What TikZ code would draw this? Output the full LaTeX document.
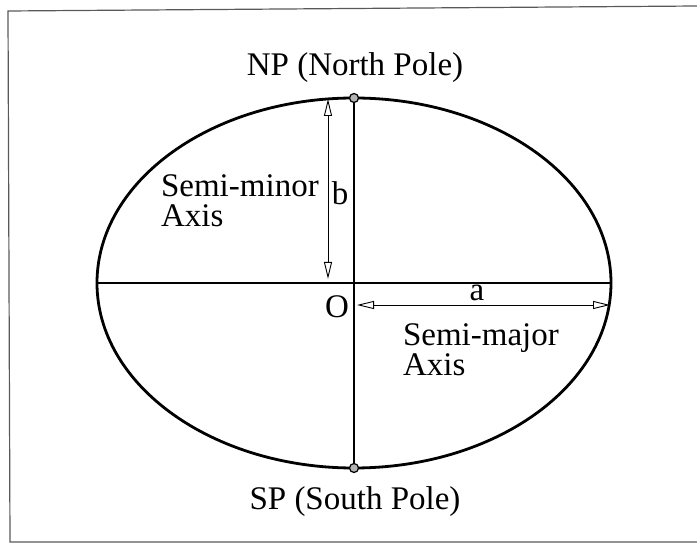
\documentclass[tikz,border=0pt]{standalone}
\usepackage{fontspec}
\setmainfont{Liberation Serif}
\usetikzlibrary{arrows.meta}
\tikzset{
  figframe/.style={line width=0.6pt,black!65},
  ellipseline/.style={line width=1.4pt},
  axisline/.style={line width=1.1pt},
  dimarrow/.style={line width=0.45pt,
    {Triangle[open,length=8.5pt,width=4pt]}-{Triangle[open,length=8.5pt,width=4pt]}},
  poledot/.style={circle,draw,line width=0.6pt,fill=black!30,inner sep=0pt,minimum size=4.5pt},
  every picture/.style={font=\fontsize{16.5}{15}\selectfont}
}
\begin{document}
\begin{tikzpicture}[x=0.5pt,y=-0.5pt]
  \useasboundingbox (0,0) rectangle (697,545);
  % frame, open on the right
  \draw[figframe] (697,6) -- (8,11) -- (10,542) -- (697,542);

  \coordinate (O) at (354,283);
  \coordinate (W) at (97,283);
  \coordinate (E) at (611,283);
  \draw[ellipseline] (O) ellipse [x radius=257, y radius=185];
  \draw[axisline] (W) -- (E);
  \node[poledot] (NP) at (354,98) {};
  \node[poledot] (SP) at (354,468) {};
  \draw[axisline] (NP) -- (SP);

  % semi-axes
  \coordinate (btop) at (328,99);
  \coordinate (bbot) at (328,279);
  \draw[dimarrow] (btop) -- (bbot);
  \coordinate (aleft) at (357,305);
  \coordinate (aright) at (610,305);
  \draw[dimarrow] (aleft) -- (aright);

  \node (nplabel) at (355,68) {NP (North Pole)};
  \node (splabel) at (355,502) {SP (South Pole)};
  \node (olabel) at (337,307) {O};
  \node (alabel) at (477,293) {a};
  \node (blabel) at (340,193) {b};
  \node[align=left,anchor=west] (minorlabel) at (154,201) {Semi-minor\\Axis};
  \node[align=left,anchor=west] (majorlabel) at (396,350) {Semi-major\\Axis};
\end{tikzpicture}
\end{document}
